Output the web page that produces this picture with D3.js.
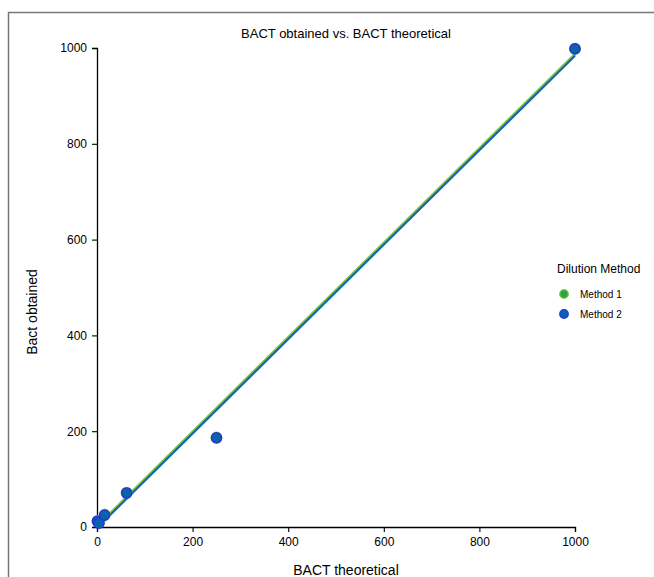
<!DOCTYPE html>
<html><head><meta charset="utf-8">
<script src="https://cdn.jsdelivr.net/npm/d3@7"></script>
<style>body{margin:0;background:#fff;} svg{display:block;font-family:"Liberation Sans",Arial,sans-serif;}</style>
</head><body>
<svg id="c" width="654" height="577"></svg>
<script>
const theoretical = [1, 4, 16, 62, 250, 1000];
const method1 = [13, 9, 26, 72, 187, 999];
const method2 = [12, 8, 25, 71, 186, 998];
const fitX = [0, 1000];
const fit1 = [1, 987];
const fit2 = [-2, 984];
const ticks = [0, 200, 400, 600, 800, 1000];
const seriesNames = ["Method 1", "Method 2"];

const svg = d3.select("#c");
// frame
svg.append("path").attr("d","M8.5,577V12.5H654").attr("fill","none").attr("stroke","#777").attr("stroke-width",1.5);

const x = d3.scaleLinear().domain([0,1000]).range([97,575]);
const y = d3.scaleLinear().domain([0,1000]).range([527,48]);

const fmt = d3.format("d");
const xa = svg.append("g").attr("transform","translate(0,527)").call(d3.axisBottom(x).tickValues(ticks).tickFormat(fmt).tickSize(5).tickPadding(5));
const ya = svg.append("g").attr("transform","translate(97,0)").call(d3.axisLeft(y).tickValues(ticks).tickFormat(fmt).tickSize(5).tickPadding(5));
[xa,ya].forEach(a=>{
  a.selectAll("path").attr("stroke","#000").attr("stroke-width",1.3);
  a.selectAll("line").attr("stroke","#000").attr("stroke-width",1.1);
  a.selectAll("text").attr("font-size",12).attr("fill","#000").attr("font-family","Liberation Sans, Arial, sans-serif");
});

svg.append("text").attr("x",346).attr("y",38).attr("text-anchor","middle").attr("font-size",13).text("BACT obtained vs. BACT theoretical");
svg.append("text").attr("x",346).attr("y",575).attr("text-anchor","middle").attr("font-size",14).text("BACT theoretical");
svg.append("text").attr("transform","translate(37,312) rotate(-90)").attr("text-anchor","middle").attr("font-size",14).text("Bact obtained");

const line = d3.line().x(d=>x(d[0])).y(d=>y(d[1]));
svg.append("path").datum(fitX.map((v,i)=>[v,fit1[i]])).attr("d",line).attr("fill","none").attr("stroke","#8cc63f").attr("stroke-width",3);
svg.append("path").datum(fitX.map((v,i)=>[v,fit2[i]])).attr("d",line).attr("fill","none").attr("stroke","#136aa6").attr("stroke-width",2.2);

const styles = [{fill:"#22a84a",stroke:"#8cc63f"},{fill:"#0b62a8",stroke:"#2233dd"}];
[method1,method2].forEach((s,k)=>{
  svg.append("g").selectAll("circle").data(s).join("circle")
    .attr("cx",(d,i)=>x(theoretical[i])).attr("cy",d=>y(d)).attr("r",5.2)
    .attr("fill",styles[k].fill).attr("stroke",styles[k].stroke).attr("stroke-width",1.3);
});

const lg = svg.append("g");
lg.append("text").attr("x",557).attr("y",273).attr("font-size",12).text("Dilution Method");
seriesNames.forEach((n,k)=>{
  lg.append("circle").attr("cx",564).attr("cy",294+k*20).attr("r",4.3).attr("fill",styles[k].fill).attr("stroke",styles[k].stroke).attr("stroke-width",1.2);
  lg.append("text").attr("x",580).attr("y",298+k*20).attr("font-size",10).text(n);
});
</script>
</body></html>
